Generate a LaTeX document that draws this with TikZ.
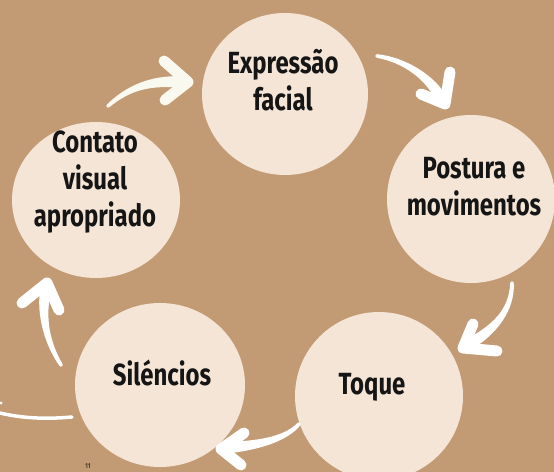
\documentclass[tikz,border=0pt]{standalone}
\usepackage{fontspec}
\setmainfont{Fira Sans}
\usepackage{graphicx}
\usetikzlibrary{shapes.geometric,calc}
\definecolor{bgbrown}{HTML}{C29A74}
\definecolor{cream}{HTML}{F5E5D6}
\definecolor{ink}{HTML}{151515}
\definecolor{ivory}{HTML}{FAF9F0}
% stacked, slightly stretched lines of hand-lettered text
\newcommand\handlines[1]{\scalebox{1}[1.28]{\begin{tabular}{@{}c@{}}#1\end{tabular}}}
% brush-like shaft: thin at the tail (#1), wide at the head (#4), controls #2 and #3
\newcommand\taperedshaft[5]{%
  \fill[#5] ($(#1)!1.8bp!90:(#2)$)
      .. controls ($(#2)!3bp!-90:(#1)$) and ($(#3)!5bp!90:(#4)$) .. ($(#4)!5.8bp!-90:(#3)$)
      -- ($(#4)!5.8bp!90:(#3)$)
      .. controls ($(#3)!5bp!-90:(#4)$) and ($(#2)!3bp!90:(#1)$) .. ($(#1)!1.8bp!-90:(#2)$)
      -- cycle;
  \fill[#5] (#1) circle (1.8bp);
}

\begin{document}
\begin{tikzpicture}[x=1bp,y=-1bp,
  blob/.style={ellipse, fill=cream, inner sep=0pt},
  lbl/.style={font=\fontsize{24}{29}\selectfont\bfseries, text=ink, inner sep=0pt},
  barb/.style={draw=white, line width=11bp, line join=round, line cap=round}]
\fill[bgbrown] (0,0) rectangle (554,472);
\useasboundingbox (0,0) rectangle (554,472);

% the five discs
\node[blob, minimum width=166bp, minimum height=162bp] (expr) at (285,94) {};
\node[blob, minimum width=168bp, minimum height=156bp] (cont) at (96,200) {};
\node[blob, minimum width=168bp, minimum height=168bp] (post) at (471,199) {};
\node[blob, minimum width=168bp, minimum height=168bp] (toq)  at (379,396) {};
\node[blob, minimum width=170bp, minimum height=164bp] (sil)  at (160,385) {};

% labels
\node[lbl] (exprT) at (283,85)  {\handlines{Expressão\\facial}};
\node[lbl] (contT) at (95,182)  {\handlines{Contato\\visual\\apropriado}};
\node[lbl] (postT) at (474,190) {\handlines{Postura e\\movimentos}};
\node[lbl] (toqT)  at (372,387) {\handlines{Toque}};
\node[lbl] (silT)  at (162,378) {\handlines{Siléncios}};

% arrow: contato -> expressao
\coordinate (a1t) at (108,106); \coordinate (a1c) at (128,88); \coordinate (a1d) at (150,80); \coordinate (a1h) at (182,82);
\coordinate (a1w1) at (164,61); \coordinate (a1p) at (188,82); \coordinate (a1w2) at (165,100);
\taperedshaft{a1t}{a1c}{a1d}{a1h}{ivory}
\draw[barb, draw=ivory] (a1w1) -- (a1p) -- (a1w2);

% arrow: expressao -> postura
\coordinate (a2t) at (377,56); \coordinate (a2c) at (405,60); \coordinate (a2d) at (432,78); \coordinate (a2h) at (443,102);
\coordinate (a2w1) at (450,72); \coordinate (a2p) at (445,104); \coordinate (a2w2) at (421,94);
\taperedshaft{a2t}{a2c}{a2d}{a2h}{white}
\draw[barb] (a2w1) -- (a2p) -- (a2w2);

% arrow: postura -> toque
\coordinate (a3t) at (512,283); \coordinate (a3c) at (512,310); \coordinate (a3d) at (495,330); \coordinate (a3h) at (466,346);
\coordinate (a3w1) at (473,324); \coordinate (a3p) at (463,348); \coordinate (a3w2) at (497,351);
\taperedshaft{a3t}{a3c}{a3d}{a3h}{white}
\draw[barb] (a3w1) -- (a3p) -- (a3w2);

% arrow: toque -> silencios
\coordinate (a4t) at (299,424); \coordinate (a4c) at (285,440); \coordinate (a4d) at (255,446); \coordinate (a4h) at (223,448);
\coordinate (a4w1) at (244,433); \coordinate (a4p) at (221,449); \coordinate (a4w2) at (241,465);
\taperedshaft{a4t}{a4c}{a4d}{a4h}{white}
\draw[barb] (a4w1) -- (a4p) -- (a4w2);

% arrow: silencios -> contato
\coordinate (a5t) at (61,365); \coordinate (a5c) at (45,340); \coordinate (a5d) at (40,310); \coordinate (a5h) at (47,284);
\coordinate (a5w1) at (22,303); \coordinate (a5p) at (47,283); \coordinate (a5w2) at (59,310);
\taperedshaft{a5t}{a5c}{a5d}{a5h}{white}
\draw[barb] (a5w1) -- (a5p) -- (a5w2);

% loose stroke at the left edge
\coordinate (s0) at (0,413); \coordinate (s1) at (72,417);
\draw[white, line width=3.5bp, line cap=round] (s0) .. controls (25,419) and (50,419) .. (s1);
\fill[white] (1,403) circle (1.6);

% page number
\node[font=\fontsize{7}{8}\selectfont, text=ink] (pg) at (88,466) {11};
\end{tikzpicture}
\end{document}
